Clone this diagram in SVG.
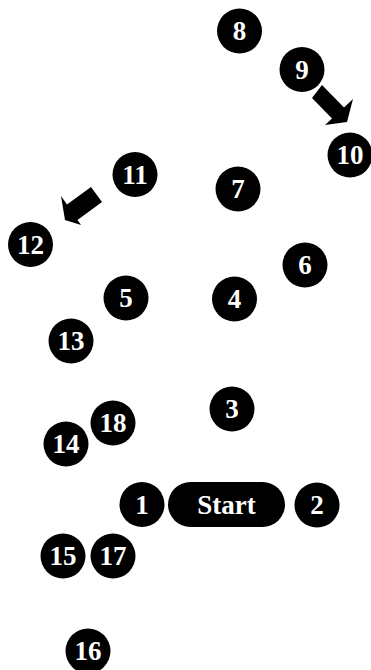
<svg xmlns="http://www.w3.org/2000/svg" width="371" height="670" viewBox="0 0 371 670">
<style>
.n{fill:#000}
.t{fill:#fff;font-family:"Liberation Serif","Times New Roman",serif;font-weight:bold;font-size:27px;text-anchor:middle}
.a{fill:#000}
</style>
<rect width="371" height="670" fill="#fff"/>
<g id="connectors">
<polygon class="a" points="322,85 344,107.6 353,99 347,122 325,125 332,118.6 312,98"/>
<polygon class="a" points="91,187 67,204.6 61,196 65,220 81,225 77.5,219.9 102,202"/>
</g>
<g id="start"><rect class="n" x="168" y="482" width="117" height="45" rx="22.5"/><text class="t" x="226.5" y="514">Start</text></g>
<g id="n1"><circle class="n" cx="142" cy="504.5" r="22.5"/><text class="t" x="142" y="513.5">1</text></g>
<g id="n2"><circle class="n" cx="317" cy="505" r="22.5"/><text class="t" x="317" y="514">2</text></g>
<g id="n3"><circle class="n" cx="232" cy="409" r="22.5"/><text class="t" x="232" y="418">3</text></g>
<g id="n4"><circle class="n" cx="234.5" cy="299" r="22.5"/><text class="t" x="234.5" y="308">4</text></g>
<g id="n5"><circle class="n" cx="126" cy="298" r="22.5"/><text class="t" x="126" y="307">5</text></g>
<g id="n6"><circle class="n" cx="305" cy="265" r="22.5"/><text class="t" x="305" y="274">6</text></g>
<g id="n7"><circle class="n" cx="238" cy="189" r="22.5"/><text class="t" x="238" y="198">7</text></g>
<g id="n8"><circle class="n" cx="239.5" cy="31" r="22.5"/><text class="t" x="239.5" y="40">8</text></g>
<g id="n9"><circle class="n" cx="302" cy="69.5" r="22.5"/><text class="t" x="302" y="78.5">9</text></g>
<g id="n10"><circle class="n" cx="350" cy="155" r="22.5"/><text class="t" x="350" y="164">10</text></g>
<g id="n11"><circle class="n" cx="135" cy="174.5" r="22.5"/><text class="t" x="135" y="183.5">11</text></g>
<g id="n12"><circle class="n" cx="30.5" cy="244.5" r="22.5"/><text class="t" x="30.5" y="253.5">12</text></g>
<g id="n13"><circle class="n" cx="71" cy="341" r="22.5"/><text class="t" x="71" y="350">13</text></g>
<g id="n14"><circle class="n" cx="66" cy="444" r="22.5"/><text class="t" x="66" y="453">14</text></g>
<g id="n15"><circle class="n" cx="63" cy="556" r="22.5"/><text class="t" x="63" y="565">15</text></g>
<g id="n16"><circle class="n" cx="88" cy="651" r="22.5"/><text class="t" x="88" y="660">16</text></g>
<g id="n17"><circle class="n" cx="113" cy="556" r="22.5"/><text class="t" x="113" y="565">17</text></g>
<g id="n18"><circle class="n" cx="113" cy="423" r="22.5"/><text class="t" x="113" y="432">18</text></g>
</svg>
